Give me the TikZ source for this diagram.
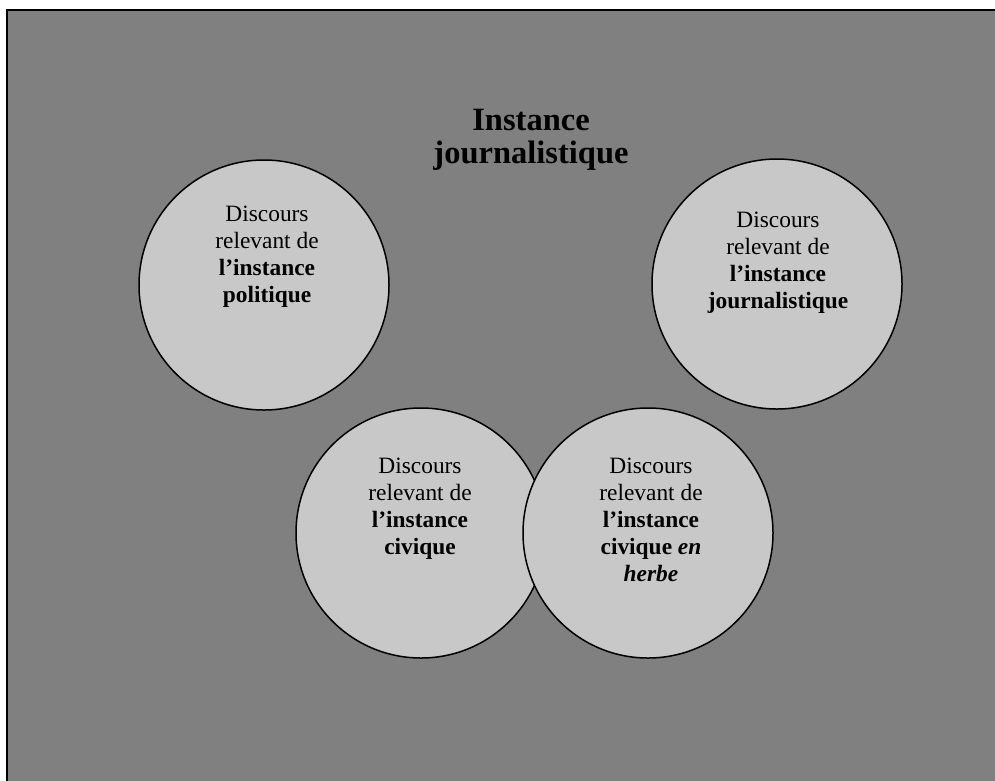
\documentclass[tikz,border=0pt]{standalone}
\usepackage{fontspec}
\setmainfont{Liberation Serif}
\definecolor{bggray}{RGB}{128,128,128}
\definecolor{circfill}{RGB}{200,200,200}
\begin{document}
\begin{tikzpicture}[x=1pt,y=-1pt,
  disc/.style={circle,draw=black,line width=1.5pt,fill=circfill,minimum size=250pt,inner sep=0pt},
  ctext/.style={align=center,anchor=base,inner sep=0pt,font=\fontsize{23.4}{27}\selectfont},
  ttext/.style={align=center,anchor=base,inner sep=0pt,font=\fontsize{32.5}{33}\selectfont\bfseries}]
\useasboundingbox (0,0) rectangle (995,780);
\fill[white] (0,0) rectangle (995,780);
\draw[fill=bggray,line width=2pt] (7,10) rectangle (1010,795);
\node[disc] (cpol) at (264,285) {};
\node[disc] (cjour) at (777,284) {};
\node[disc] (cciv) at (421,533) {};
\node[disc] (cherbe) at (648,533) {};
\node[ttext] (title) at (531,163) {Instance\\journalistique};
\node[ctext] (tpol) at (267,302) {Discours\\relevant de\\\textbf{l’instance}\\\textbf{politique}};
\node[ctext] (tjour) at (778,308) {Discours\\relevant de\\\textbf{l’instance}\\\textbf{journalistique}};
\node[ctext] (tciv) at (420,554) {Discours\\relevant de\\\textbf{l’instance}\\\textbf{civique}};
\node[ctext] (therbe) at (651,581) {Discours\\relevant de\\\textbf{l’instance}\\\textbf{civique \textit{en}}\\\textbf{\textit{herbe}}};
\end{tikzpicture}
\end{document}
